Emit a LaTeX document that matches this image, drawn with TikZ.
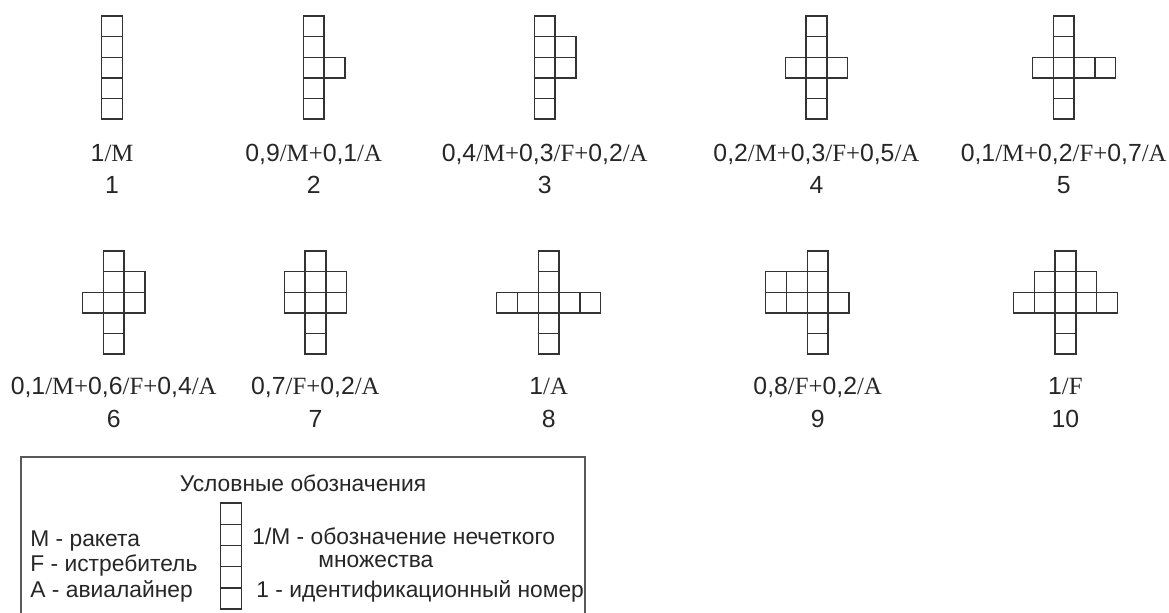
\documentclass[tikz,border=0pt]{standalone}
\usepackage{fontspec}
\setmainfont{Liberation Sans}
\newfontfamily\serifnt{Liberation Serif}
\newcommand{\Sr}[1]{{\serifnt #1}}
\begin{document}
\begin{tikzpicture}[x=0.5pt,y=-0.5pt,
  cellline/.style={draw=black!80,line width=0.7pt},
  legbox/.style={draw=black!65,line width=0.8pt},
  flabel/.style={anchor=base,inner sep=0pt,text=black!85,font=\fontsize{12.4}{14}\selectfont},
  ltitle/.style={anchor=base,inner sep=0pt,text=black!85,font=\fontsize{11.4}{13}\selectfont},
  ltext/.style={anchor=base west,inner sep=0pt,text=black!85,font=\fontsize{11.4}{13}\selectfont}]
\useasboundingbox (0,0) rectangle (1169,612);
\clip (0,0) rectangle (1169,612);
\def\cw{20.8}\def\ch{20.6}
\newcommand\figcells[3]{%
  \foreach \c/\r in {0/0,0/1,0/2,0/3,0/4,#3} {%
    \draw[cellline] ({#1+\c*\cw},{#2+\r*\ch}) rectangle ++(\cw,\ch);}}
% row 1
\figcells{101.7}{16}{0/0}
\figcells{303.3}{16}{1/2}
\figcells{534.3}{16}{1/1,1/2}
\figcells{806}{16}{-1/2,1/2}
\figcells{1053.3}{16}{-1/2,1/2,2/2}
% row 2
\figcells{103.3}{251}{1/1,1/2,-1/2}
\figcells{305}{251}{-1/1,-1/2,1/1,1/2}
\figcells{538.3}{251}{-2/2,-1/2,1/2,2/2}
\figcells{807.3}{251}{-2/1,-1/1,-2/2,-1/2,1/2}
\figcells{1055}{251}{-1/1,1/1,-2/2,-1/2,1/2,2/2}
% labels row 1
\node[flabel] (l1) at (112.1,161) {1\Sr{/M}};
\node[flabel] (n1) at (112.1,193) {1};
\node[flabel] (l2) at (313.7,161) {0,9\Sr{/M+}0,1\Sr{/A}};
\node[flabel] (n2) at (313.7,193) {2};
\node[flabel] (l3) at (544.7,161) {0,4\Sr{/M+}0,3\Sr{/F+}0,2\Sr{/A}};
\node[flabel] (n3) at (544.7,193) {3};
\node[flabel] (l4) at (816.4,161) {0,2\Sr{/M+}0,3\Sr{/F+}0,5\Sr{/A}};
\node[flabel] (n4) at (816.4,193) {4};
\node[flabel] (l5) at (1063.7,161) {0,1\Sr{/M+}0,2\Sr{/F+}0,7\Sr{/A}};
\node[flabel] (n5) at (1063.7,193) {5};
% labels row 2
\node[flabel] (l6) at (113.7,394) {0,1\Sr{/M+}0,6\Sr{/F+}0,4\Sr{/A}};
\node[flabel] (n6) at (113.7,427) {6};
\node[flabel] (l7) at (315.4,394) {0,7\Sr{/F+}0,2\Sr{/A}};
\node[flabel] (n7) at (315.4,427) {7};
\node[flabel] (l8) at (548.7,394) {1\Sr{/A}};
\node[flabel] (n8) at (548.7,427) {8};
\node[flabel] (l9) at (817.7,394) {0,8\Sr{/F+}0,2\Sr{/A}};
\node[flabel] (n9) at (817.7,427) {9};
\node[flabel] (l10) at (1065.4,394) {1\Sr{/F}};
\node[flabel] (n10) at (1065.4,427) {10};
% legend
\draw[legbox] (21,457) rectangle (585,660);
\node[ltitle] (ltit) at (303,491) {Условные обозначения};
\node[ltext] (lm) at (30,546) {M - ракета};
\node[ltext] (lf) at (30,571) {F - истребитель};
\node[ltext] (la) at (30,597) {A - авиалайнер};
\foreach \r in {0,...,4} {\draw[cellline] (220.5,{503+\r*21.2}) rectangle ++(20.8,21.2);}
\node[ltext] (lset) at (252,544) {1/M - обозначение нечеткого};
\node[ltext] (lset2) at (318,567) {множества};
\node[ltext] (lid) at (256,597) {1 - идентификационный номер};
\end{tikzpicture}
\end{document}
